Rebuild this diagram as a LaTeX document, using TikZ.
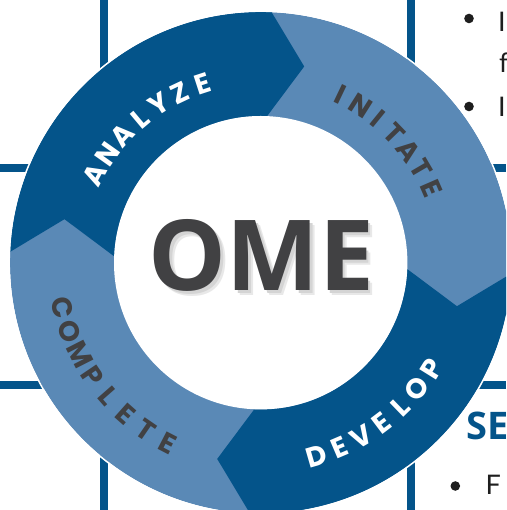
\documentclass[tikz,border=0pt]{standalone}
\usepackage{fontspec}
\setmainfont{Lato}
\newfontfamily\ringfont{Poppins}
\newfontfamily\omefont{Open Sans}
\definecolor{omedark}{HTML}{04548A}
\definecolor{omelight}{HTML}{5A89B6}
\definecolor{omegray}{HTML}{414143}
\definecolor{inkgray}{HTML}{1E1E1E}
\tikzset{
	gridline/.style={omedark,line width=8pt},
	ringletter/.style={font=\ringfont\bfseries\fontsize{28}{28}\selectfont,inner sep=0pt},
	sidetext/.style={font=\fontsize{27}{27}\selectfont,text=inkgray,anchor=base west,inner sep=0pt},
	bigword/.style={font=\omefont\bfseries\fontsize{98}{98}\selectfont,inner sep=0pt}
}

\begin{document}
\begin{tikzpicture}[x=1pt,y=1pt]
	\useasboundingbox (0,0) rectangle (506,510);
	\clip (0,0) rectangle (506,510);
	% grid behind the wheel
	\draw [gridline] (104,0) -- (104,510);
	\draw [gridline] (411,0) -- (411,510);
	\draw [gridline] (0,342) -- (506,342);
	\draw [gridline] (0,124.5) -- (506,124.5);
	% cut off column on the right
	\fill [inkgray] (469,491.5) circle (4.8);
	\node [sidetext] (itemA) at (498,478) {I};
	\node [sidetext] (itemAb) at (499,437) {f};
	\fill [inkgray] (469,403.5) circle (4.8);
	\node [sidetext] (itemB) at (498,393) {I};
	\node [sidetext,font=\omefont\bfseries\fontsize{38}{38}\selectfont,text=omedark] (sechead) at (466,70) {SE};
	\fill [inkgray] (455.3,24) circle (4.8);
	\node [sidetext] (itemC) at (485.5,15) {F};
	% the wheel
	\begin{scope}[shift={(260.7,247.3)}]
		\fill [omelight] (0,0) circle (250.7);
		\foreach \s in {177.5,-2.5}
			\fill [omedark] (\s:250.7) arc[start angle=\s, end angle=\s-90, radius=250.7] -- ({\s-100}:201) -- ({\s-90}:146.7) arc[start angle=\s-90, end angle=\s, radius=146.7] -- ({\s-10}:201) -- cycle;
		\fill [white] (0,0) circle (146.7);
		\draw [white,line width=1.5pt] (0,0) circle (251.5);
		% letters on the ring
		\foreach \ch [count=\i] in {A,N,A,L,Y,Z,E} {
			\pgfmathsetmacro\a{152-7.33*(\i-1)}
			\node [ringletter,text=white,rotate=\a-90] (analyze\i) at (\a:188) {\ch};
		}
		\foreach \ch [count=\i] in {I,N,I,T,A,T,E} {
			\pgfmathsetmacro\a{64.5-6.83*(\i-1)}
			\node [ringletter,text=omegray,rotate=\a-90] (initate\i) at (\a:186) {\ch};
		}
		\foreach \ch [count=\i] in {D,E,V,E,L,O,P} {
			\pgfmathsetmacro\a{-73.9+7*(\i-1)}
			\node [ringletter,text=white,rotate=\a+90] (develop\i) at (\a:201) {\ch};
		}
		\foreach \ch [count=\i] in {C,O,M,P,L,E,T,E} {
			\pgfmathsetmacro\a{192.7+7.13*(\i-1)}
			\node [ringletter,text=omegray,rotate=\a+90] (complete\i) at (\a:203) {\ch};
		}
	\end{scope}
	% centre word with its shadow
	\node [bigword,text=black!9] (omeblur) at (266,250) {OME};
	\node [bigword,text=black!17] (omeshadow) at (264,252) {OME};
	\node [bigword,text=omegray] (ome) at (261.5,255) {OME};
\end{tikzpicture}
\end{document}
